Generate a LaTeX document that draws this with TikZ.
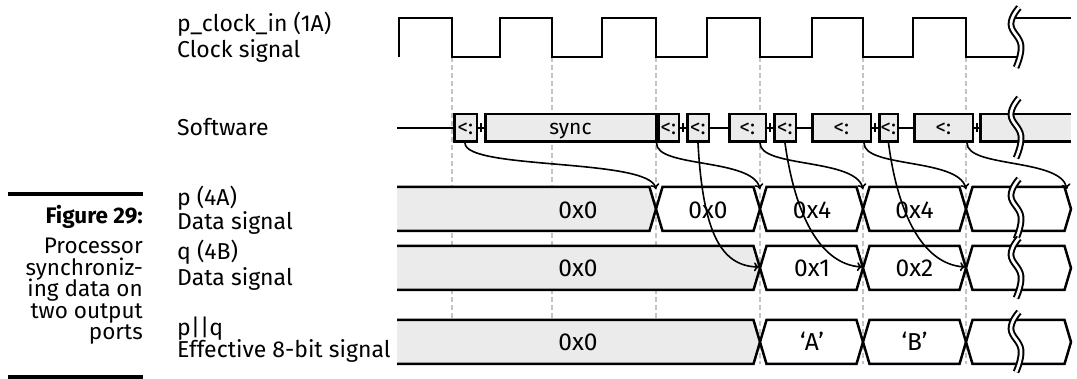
\documentclass[tikz,border=0pt]{standalone}
\usepackage{fontspec}
\setmainfont{Fira Sans}
\usetikzlibrary{arrows.meta}
\definecolor{boxgray}{HTML}{EBEBEB}
\definecolor{dashgray}{HTML}{C4C4C4}
% hexagonal data segment: from, to, top, mid, bottom
\newcommand\tdseg[5]{%
  \filldraw[sig, fill=white] (#1,#4) -- (#1+6.5,#3) -- (#2-6.5,#3) -- (#2,#4) -- (#2-6.5,#5) -- (#1+6.5,#5) -- cycle;}
% first (grey) data segment, open on the left
\newcommand\tdfirst[4]{%
  \fill[boxgray] (397,#2) -- (#1-6.5,#2) -- (#1,#3) -- (#1-6.5,#4) -- (397,#4) -- cycle;
  \draw[sig] (397,#2) -- (#1-6.5,#2) -- (#1,#3) -- (#1-6.5,#4) -- (397,#4);}
% break mark centred at (x,y)
\newcommand\tdbreak[2]{%
  \draw[brk] plot[smooth, tension=0.75] coordinates {(#1+3,#2-30) (#1-5,#2-13) (#1+5,#2+8) (#1,#2+30)};}
\newcommand\capfont{\fontsize{22.5}{24}\selectfont}
\begin{document}
\begin{tikzpicture}[x=1pt,y=-1pt,
  sig/.style={line width=2.5pt, line join=miter},
  lbl/.style={anchor=base west, inner sep=0pt, font=\fontsize{23}{26}\selectfont},
  captxt/.style={anchor=base east, inner sep=0pt},
  val/.style={anchor=base, inner sep=0pt, font=\fontsize{24.5}{28}\selectfont},
  swbox/.style={draw, line width=2.5pt, fill=boxgray, minimum height=27.5pt, inner sep=0pt,
    text height=14pt, text depth=0pt, font=\fontsize{21}{25}\selectfont},
  gridline/.style={dashgray, line width=2pt, dash pattern=on 5pt off 3pt},
  arr/.style={line width=1.6pt, -{To[length=5pt,width=9pt]}},
  brk/.style={draw=black, line width=2pt, double=white, double distance=2.7pt},
  tickmark/.style={line width=1.6pt},
  rulebar/.style={fill=black},
]
\useasboundingbox (0,0) rectangle (1077,379);

% caption
\fill[rulebar] (8,192) rectangle (143,196);
\fill[rulebar] (8,375) rectangle (143,379);
\node[captxt] (c0) at (143,224) {\capfont\bfseries Figure 29:};
\node[captxt] (c1) at (143,254) {\capfont Processor};
\node[captxt] (c2) at (143,275.5) {\capfont synchroniz-};
\node[captxt] (c3) at (143,297) {\capfont ing data on};
\node[captxt] (c4) at (143,318.5) {\capfont two output};
\node[captxt] (c5) at (143,340) {\capfont ports};

% labels
\node[lbl] (l1) at (177,32) {p\_clock\_in (1A)};
\node[lbl] (l2) at (177,58) {Clock signal};
\node[lbl] (l3) at (177,136) {Software};
\node[lbl] (l4) at (177,206) {p (4A)};
\node[lbl] (l5) at (177,230) {Data signal};
\node[lbl] (l6) at (177,260) {q (4B)};
\node[lbl] (l7) at (177,286) {Data signal};
\node[lbl] (l8) at (177,336) {p||q};
\node[lbl] (l9) at (177,358) {Effective 8-bit signal};

% grid lines at falling clock edges
\foreach \x in {452,552,656,760,863,966} \draw[gridline] (\x,57) -- (\x,364);

% clock
\draw[sig] (399,57) -- (399,18) -- (452,18) -- (452,57) -- (500,57) -- (500,18) -- (552,18) -- (552,57)
  -- (602,57) -- (602,18) -- (656,18) -- (656,57) -- (707,57) -- (707,18) -- (760,18) -- (760,57)
  -- (812,57) -- (812,18) -- (863,18) -- (863,57) -- (913,57) -- (913,18) -- (966,18) -- (966,57) -- (1018,57);
\draw[sig] (1014,18) -- (1071,18);

% software row
\draw[sig] (397,128) -- (455,128);
\node[swbox, minimum width=22.5pt] (s1) at (465.5,128) {<:};
\node[swbox, minimum width=170.5pt] (s2) at (570.5,128) {sync};
\node[swbox, minimum width=20.5pt] (s3) at (668.5,128) {<:};
\node[swbox, minimum width=21.5pt] (s4) at (698,128) {<:};
\node[swbox, minimum width=36.5pt] (s5) at (747.5,128) {<:};
\node[swbox, minimum width=21.5pt] (s6) at (785,128) {<:};
\node[swbox, minimum width=58.5pt] (s7) at (841.5,128) {<:};
\node[swbox, minimum width=18.5pt] (s8) at (888.5,128) {<:};
\node[swbox, minimum width=58.5pt] (s9) at (943.5,128) {<:};
\fill[boxgray] (980.25,114.25) rectangle (1071,141.75);
\draw[sig] (1071,114.25) -- (980.25,114.25) -- (980.25,141.75) -- (1071,141.75);
\coordinate (s10) at (980.25,128);
\draw[sig] (s1.east) -- (s2.west);
\draw[sig] (s3.east) -- (s4.west);
\draw[sig] (s4.east) -- (s5.west);
\draw[sig] (s5.east) -- (s6.west);
\draw[sig] (s6.east) -- (s7.west);
\draw[sig] (s7.east) -- (s8.west);
\draw[sig] (s8.east) -- (s9.west);
\draw[sig] (s9.east) -- (s10);
\foreach \x in {481,683,770,875,977} \draw[tickmark] (\x,123.5) -- (\x,132.5);

% data rows
\tdfirst{656}{187}{209}{231}
\tdseg{656}{760}{187}{209}{231}
\tdseg{760}{863}{187}{209}{231}
\tdseg{863}{966}{187}{209}{231}
\tdseg{966}{1071}{187}{209}{231}

\tdfirst{760}{246}{268}{290}
\tdseg{760}{863}{246}{268}{290}
\tdseg{863}{966}{246}{268}{290}
\tdseg{966}{1071}{246}{268}{290}

\tdfirst{760}{320}{342}{364}
\tdseg{760}{863}{320}{342}{364}
\tdseg{863}{966}{320}{342}{364}
\tdseg{966}{1071}{320}{342}{364}

\node[val] (p0) at (578,219) {0x0};
\node[val] (p1) at (708,219) {0x0};
\node[val] (p2) at (812,219) {0x4};
\node[val] (p3) at (914.5,219) {0x4};
\node[val] (q0) at (578,277) {0x0};
\node[val] (q1) at (812,277) {0x1};
\node[val] (q2) at (914.5,277) {0x2};
\node[val] (r0) at (578,351) {0x0};
\node[val] (r1) at (812,351) {‘A’};
\node[val] (r2) at (914.5,351) {‘B’};

% arrow targets
\coordinate (pA) at (656,189);
\coordinate (pB) at (760,189);
\coordinate (pC) at (863,189);
\coordinate (pD) at (966,189);
\coordinate (pE) at (1067,189);
\coordinate (qB) at (759,267);
\coordinate (qC) at (862,267);
\coordinate (qD) at (965,267);
\coordinate (a1) at (465,143);
\coordinate (a2) at (656.5,143);
\coordinate (a3) at (760,143);
\coordinate (a4) at (864,143);
\coordinate (a5) at (967,143);
\coordinate (b1) at (698,143);
\coordinate (b2) at (785,143);
\coordinate (b3) at (888.5,143);

\draw[arr] (a1) .. controls (465,170) and (648,158) .. (pA);
\draw[arr] (a2) .. controls (656,168) and (752,158) .. (pB);
\draw[arr] (a3) .. controls (760,168) and (855,158) .. (pC);
\draw[arr] (a4) .. controls (864,168) and (958,158) .. (pD);
\draw[arr] (a5) .. controls (967,168) and (1060,158) .. (pE);
\draw[arr] (b1) .. controls (703,235) and (722,266) .. (qB);
\draw[arr] (b2) .. controls (795,215) and (820,264) .. (qC);
\draw[arr] (b3) .. controls (898,215) and (923,264) .. (qD);

% break marks
\tdbreak{1016}{37.5}
\tdbreak{1016}{128}
\tdbreak{1016}{209}
\tdbreak{1016}{268}
\tdbreak{1016}{342}
\end{tikzpicture}
\end{document}
